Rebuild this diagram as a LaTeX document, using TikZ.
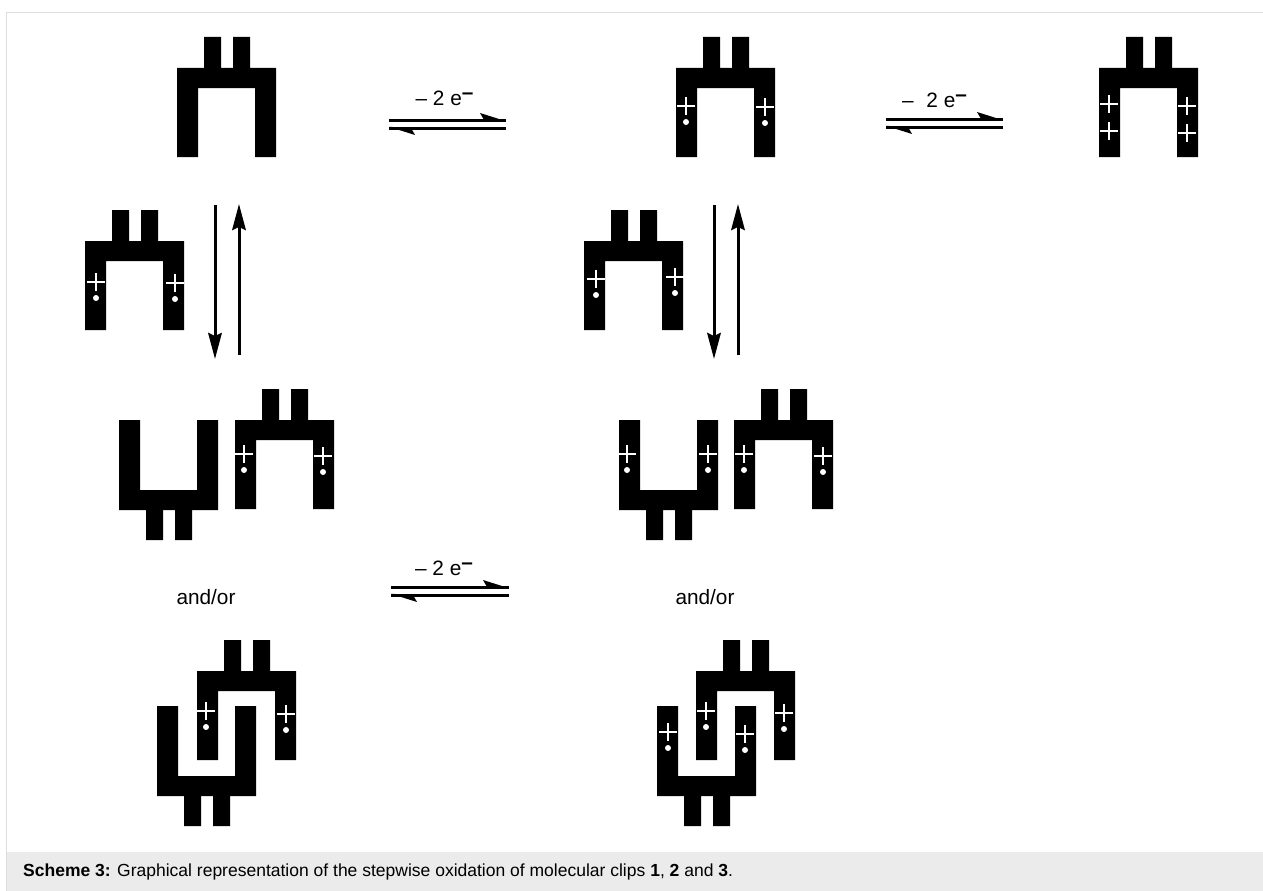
\documentclass[tikz,border=0pt]{standalone}
\usepackage{fontspec}
\setmainfont{Liberation Sans}
\usetikzlibrary{arrows.meta}
\definecolor{band}{HTML}{EBEBEB}
\definecolor{frameline}{HTML}{DDDDDD}
\tikzset{
  x=1pt,y=-1pt,
  lab/.style={inner sep=0pt,font=\fontsize{20.8}{24}\selectfont},
  stem/.style={line width=3pt,-{Stealth[length=26pt,width=13.5pt,inset=3pt]}},
  halfline/.style={line width=3pt},
}
% n-shaped clip: #1 left, #2 top of bar
\newcommand{\nclip}[2]{%
  \fill[black] (#1,#2) -- ++(27,0) -- ++(0,-31) -- ++(17,0) -- ++(0,31) -- ++(12,0) -- ++(0,-31) -- ++(17,0) -- ++(0,31) -- ++(26,0)
    -- ++(0,89) -- ++(-21,0) -- ++(0,-69) -- ++(-57,0) -- ++(0,69) -- ++(-21,0) -- cycle;}
% u-shaped clip: #1 left, #2 top of arms
\newcommand{\uclip}[2]{%
  \fill[black] (#1,#2) -- ++(21,0) -- ++(0,70) -- ++(57,0) -- ++(0,-70) -- ++(21,0) -- ++(0,90) -- ++(-26,0) -- ++(0,30) -- ++(-17,0) -- ++(0,-30) -- ++(-12,0) -- ++(0,30) -- ++(-17,0) -- ++(0,-30) -- ++(-27,0) -- cycle;}
\newcommand{\plusmark}[2]{%
  \draw[white,line width=2.7pt] (#1-9,#2) -- (#1+9,#2) (#1,#2-9) -- (#1,#2+9);}
\newcommand{\radcat}[2]{%
  \plusmark{#1}{#2}\fill[white] (#1,#2+16) circle (3);}
\newcommand{\equil}[3]{% x1 x2 ytop
  \draw[halfline] (#1,#3) -- (#2,#3);
  \fill[black] (#2,#3+1.2) -- (#2-26,#3-7) -- (#2-22,#3) -- cycle;
  \draw[halfline] (#1,#3+8) -- (#2,#3+8);
  \fill[black] (#1,#3+6.8) -- (#1+26,#3+15) -- (#1+22,#3+8) -- cycle;}
\begin{document}
\begin{tikzpicture}
\useasboundingbox (0,0) rectangle (1263,891);
\fill[white] (0,0) rectangle (1263,891);
\draw[frameline,line width=1pt] (6.5,891) -- (6.5,12.5) -- (1263,12.5);
\fill[band] (7,852) rectangle (1263,891);
% row 1
\nclip{177}{68}
\nclip{676}{68}\radcat{686}{106}\radcat{765}{107}
\nclip{1099}{68}
\plusmark{1109}{104}\plusmark{1109}{131}\plusmark{1187}{106}\plusmark{1187}{133}
\equil{389}{506}{120}
\equil{886}{1003}{119}
\node[lab,anchor=center] (e1) at (444.5,98) {– 2 e\raisebox{.55ex}{\textbf{–}}};
\node[lab,anchor=center] (e2) at (934.5,100) {–\,\, 2 e\raisebox{.55ex}{\textbf{–}}};
% row 2
\nclip{85}{241}\radcat{96}{282}\radcat{175}{283}
\nclip{584}{241}\radcat{596}{279}\radcat{675}{277}
\coordinate (d1a) at (215,205);\coordinate (d1b) at (215,359);
\coordinate (u1a) at (239,355);\coordinate (u1b) at (239,204);
\coordinate (d2a) at (714,205);\coordinate (d2b) at (714,359);
\coordinate (u2a) at (738,355);\coordinate (u2b) at (738,204);
\draw[stem] (d1a) -- (d1b);
\draw[stem] (u1a) -- (u1b);
\draw[stem] (d2a) -- (d2b);
\draw[stem] (u2a) -- (u2b);
% row 3
\uclip{119}{420}
\nclip{235}{420}\radcat{244}{454}\radcat{323}{456}
\uclip{619}{420}\radcat{627}{454}\radcat{708}{454}
\nclip{734}{420}\radcat{744}{454}\radcat{823}{456}
\node[lab] (a1) at (206,597) {and/or};
\node[lab] (a2) at (705,597) {and/or};
\equil{391}{509}{587}
\node[lab] (e3) at (444,568) {– 2 e\raisebox{.55ex}{\textbf{–}}};
% row 4
\nclip{197}{671}\uclip{157}{706}
\radcat{206}{711}\radcat{286}{714}
\nclip{696}{671}\uclip{657}{706}
\radcat{706}{711}\radcat{784}{713}\radcat{668}{732}\radcat{745}{734}
% caption
\node[anchor=base west,inner sep=0pt,font=\fontsize{17.5}{21}\selectfont] (cap) at (23,876) {\textbf{Scheme 3:} Graphical representation of the stepwise oxidation of molecular clips \textbf{1}, \textbf{2} and \textbf{3}.};
\end{tikzpicture}
\end{document}
